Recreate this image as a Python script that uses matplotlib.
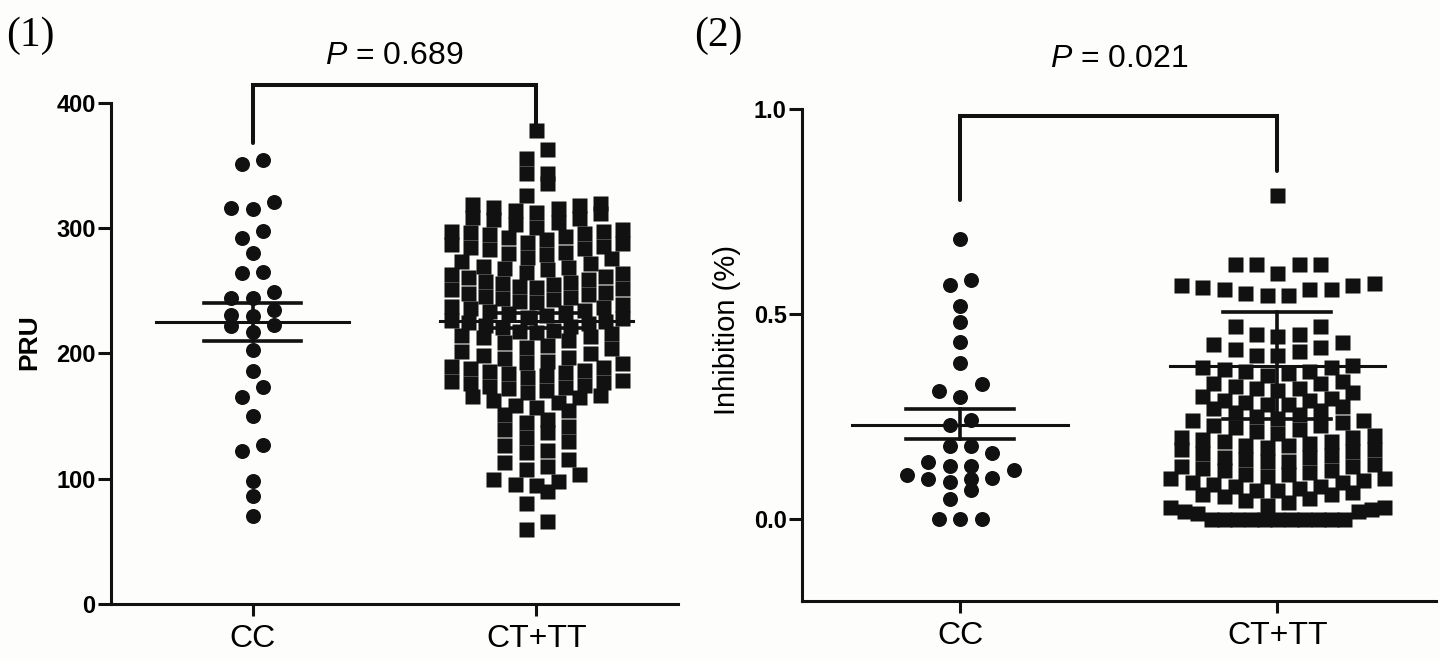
import matplotlib
matplotlib.use("Agg")
import matplotlib.pyplot as plt
import numpy as np

plt.rcParams["font.family"] = ["Liberation Sans", "DejaVu Sans"]
plt.rcParams["mathtext.fontset"] = "custom"
plt.rcParams["mathtext.rm"] = "Liberation Sans"
plt.rcParams["mathtext.it"] = "Liberation Sans:italic"

groups = ["CC", "CT+TT"]

# (1) PRU values
pru_cc = [354, 351, 321, 316, 315, 298, 292, 280, 265, 264, 249, 244, 244, 235,
          231, 230, 223, 222, 217, 203, 186, 173, 165, 150, 127, 122, 98, 86, 70]
pru_ct = [378, 363, 356, 344, 344, 336, 326,
          320, 319, 318, 317, 316, 314, 313, 312,
          309, 308, 307, 305, 303, 301,
          299, 298, 298, 297, 296, 295, 294, 293, 291,
          289, 288, 287, 286, 285, 284, 283, 281, 280,
          279, 277, 276, 274, 272, 270,
          269, 268, 267, 265, 264, 263, 262, 261,
          259, 258, 257, 256, 255, 254, 253, 252, 251,
          249, 248, 247, 246, 245, 244, 243, 242, 241,
          239, 238, 237, 236, 235, 234, 233, 232, 231,
          229, 228, 227, 226, 225, 224, 223, 222, 221,
          219, 218, 217, 216, 215, 214, 213, 211,
          209, 207, 205, 204, 202, 200,
          199, 197, 196, 194, 193, 192, 190,
          189, 188, 187, 186, 185, 184, 183, 181,
          179, 178, 177, 176, 175, 174, 173, 172, 171,
          169, 167, 166, 165, 163, 161,
          159, 157, 155, 152,
          148, 145, 142, 140, 137, 133, 130,
          127, 123, 121, 116, 113, 110, 108, 104, 100,
          98, 96, 95, 90, 81, 66, 60]
pru_mean = [225, 226]
pru_low = [210, 220]
pru_high = [240, 232]

# (2) Inhibition values
inh_cc = [0.681, 0.581, 0.570, 0.520, 0.479, 0.430, 0.380, 0.329, 0.311, 0.298,
          0.240, 0.229, 0.178, 0.178, 0.160, 0.139, 0.130, 0.130, 0.118, 0.108,
          0.100, 0.097, 0.097, 0.089, 0.070, 0.049, 0.0, 0.0, 0.0]
inh_ct = [0.79,
          0.62, 0.62, 0.62, 0.62, 0.60,
          0.575, 0.57, 0.57, 0.565, 0.56, 0.56, 0.56, 0.55, 0.545, 0.545,
          0.47, 0.47, 0.45, 0.45, 0.445,
          0.43, 0.425, 0.42, 0.415, 0.41, 0.40, 0.40,
          0.375, 0.37, 0.37, 0.365, 0.36, 0.36, 0.355, 0.35,
          0.335, 0.33, 0.33, 0.325, 0.32, 0.32, 0.315, 0.31,
          0.30, 0.295, 0.29, 0.29, 0.285, 0.28, 0.28, 0.275, 0.27, 0.265, 0.26,
          0.255, 0.25, 0.245, 0.24, 0.24, 0.235, 0.23, 0.23, 0.225, 0.22, 0.215, 0.21,
          0.205, 0.20, 0.20, 0.195, 0.19, 0.19, 0.185, 0.18, 0.18, 0.175, 0.17, 0.17, 0.165,
          0.16, 0.155, 0.15, 0.15, 0.145, 0.14, 0.14, 0.135, 0.13, 0.13, 0.125, 0.12,
          0.12, 0.115, 0.11, 0.11, 0.105, 0.10, 0.10, 0.095, 0.09, 0.09, 0.085, 0.08,
          0.08, 0.075, 0.07, 0.07, 0.065, 0.06, 0.06, 0.055, 0.05, 0.045, 0.04,
          0.035, 0.03, 0.03, 0.025, 0.02, 0.02, 0.015,
          0.0, 0.0, 0.0, 0.0, 0.0, 0.0, 0.0, 0.0, 0.0, 0.0, 0.0]
inh_mean = [0.229, 0.373]
inh_low = [0.195, 0.243]
inh_high = [0.268, 0.505]

INK = "#111111"
BG = "#fdfdfb"


def swarm_offsets(values, y_px, bin_px, step_px, max_cols):
    """Column-scatter layout: bin values into rows, spread each row sideways (px)."""
    ypix = np.asarray(values, dtype=float) * y_px
    order = np.argsort(ypix, kind="stable")
    rows = []
    for i in order:
        if rows and ypix[i] - ypix[rows[-1][0]] < bin_px:
            rows[-1].append(i)
        else:
            rows.append([i])
    offsets = np.zeros(len(ypix))
    for row in rows:
        n = len(row)
        step = step_px if n <= max_cols else step_px * (max_cols - 1) / (n - 1)
        pos = (np.arange(n) - (n - 1) / 2) * step
        pos = pos[np.argsort(np.abs(pos) + 1e-6 * pos, kind="stable")]
        offsets[row] = pos
    return offsets


def draw_panel(ax, data, markers, sizes, max_cols, bins, ylim, mean, low, high):
    ax.set_xlim(-0.5, 1.5)
    ax.set_ylim(*ylim)
    px_x = ax.bbox.width / 2.0
    px_y = ax.bbox.height / (ylim[1] - ylim[0])
    for i, (vals, mk, ms, mc, bn) in enumerate(zip(data, markers, sizes, max_cols, bins)):
        off = swarm_offsets(vals, px_y, bn, 21.4, mc) / px_x
        ax.plot(i + off, vals, linestyle="none", marker=mk, ms=ms,
                mfc=INK, mec="none", zorder=2, clip_on=False)
        ax.plot([i - 0.34, i + 0.34], [mean[i]] * 2, color=INK, lw=2.2, zorder=3)
        ax.plot([i - 0.17, i + 0.17], [low[i]] * 2, color=INK, lw=2.6, zorder=3)
        ax.plot([i - 0.17, i + 0.17], [high[i]] * 2, color=INK, lw=2.6, zorder=3)
        ax.plot([i, i], [low[i], high[i]], color=INK, lw=2.6, zorder=3)

    for side in ("top", "right"):
        ax.spines[side].set_visible(False)
    for side in ("left", "bottom"):
        ax.spines[side].set_linewidth(2.2)
        ax.spines[side].set_color(INK)
    ax.set_facecolor("none")
    ax.set_xticks([0, 1], groups, fontsize=23)
    ax.tick_params(axis="x", length=8.6, width=2.2, pad=6, color=INK)
    ax.tick_params(axis="y", length=9.4, width=2.2, pad=1.5, color=INK)


fig = plt.figure(figsize=(14.4, 6.61), dpi=100, facecolor=BG)

ax1 = fig.add_axes([0.0769, 0.0862, 0.394, 0.7584])
draw_panel(ax1, [pru_cc, pru_ct], ["o", "s"], [10.8, 10.8], [7, 9], [14.5, 14.0],
           (0, 400), pru_mean, pru_low, pru_high)
ax1.set_yticks([0, 100, 200, 300, 400], ["0", "100", "200", "300", "400"],
               fontsize=17, fontweight="bold")
ax1.set_ylabel("PRU", fontsize=19, fontweight="bold", va="center")
ax1.yaxis.set_label_coords(-0.144, 0.523)
ax1.plot([0, 0, 1, 1], [368, 414, 414, 381], color=INK, lw=2.9,
         solid_joinstyle="miter", solid_capstyle="round", clip_on=False)
ax1.text(0.5, 437, r"$\mathit{P}$ = 0.689", fontsize=23, ha="center", va="center")

ax2 = fig.add_axes([0.5567, 0.0908, 0.4405, 0.745])
draw_panel(ax2, [inh_cc, inh_ct], ["o", "s"], [10.8, 10.8], [7, 11], [14.5, 12.5],
           (-0.2, 1.0), inh_mean, inh_low, inh_high)
ax2.set_yticks([0.0, 0.5, 1.0], ["0.0", "0.5", "1.0"], fontsize=17, fontweight="bold")
ax2.set_ylabel("Inhibition (%)", fontsize=21, va="center")
ax2.yaxis.set_label_coords(-0.118, 0.55)
ax2.plot([0, 0, 1, 1], [0.776, 0.983, 0.983, 0.847], color=INK, lw=2.9,
         solid_joinstyle="miter", solid_capstyle="round", clip_on=False)
ax2.text(0.5, 1.12, r"$\mathit{P}$ = 0.021", fontsize=23, ha="center", va="center")

fig.text(6 / 1440, 1 - 36 / 661, "(1)", family="Liberation Serif", fontsize=30,
         ha="left", va="center")
fig.text(694 / 1440, 1 - 36 / 661, "(2)", family="Liberation Serif", fontsize=30,
         ha="left", va="center")

fig.savefig("out.png", dpi=100, facecolor=BG)
